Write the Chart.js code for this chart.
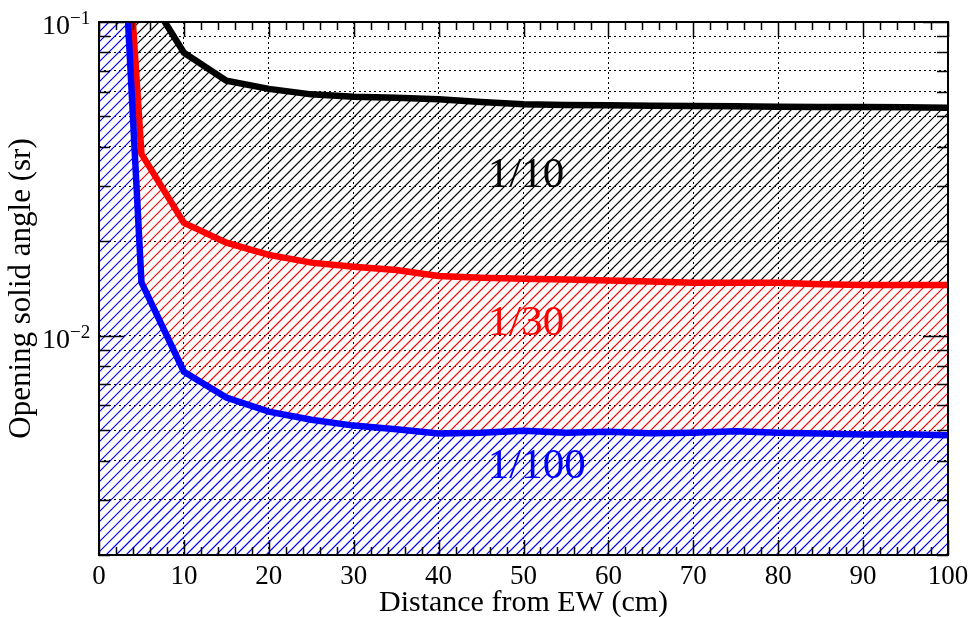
<!DOCTYPE html>
<html>
<head>
<meta charset="utf-8">
<script src="https://cdn.jsdelivr.net/npm/chart.js@4.4.1/dist/chart.umd.min.js"></script>
<style>
  html, body { margin: 0; padding: 0; background: #fff; }
  #wrap { width: 972px; height: 617px; }
</style>
</head>
<body>
<div id="wrap"><canvas id="solidAngleChart" width="972" height="617"></canvas></div>
<script>
const distances = [0, 5, 10, 15, 20, 25, 30, 35, 40, 45, 50, 55, 60, 65, 70, 75, 80, 85, 90, 95, 100];
const omega10 = [0.2, 0.132, 0.0798, 0.065, 0.0612, 0.0588, 0.0578, 0.0573, 0.0567, 0.0556, 0.0547,
  0.0544, 0.0543, 0.0541, 0.054, 0.0539, 0.0537, 0.0536, 0.0536, 0.0535, 0.0533];
const omega30 = [4.5, 0.038, 0.0229, 0.0198, 0.0181, 0.0171, 0.0166, 0.0162, 0.0155, 0.0153, 0.0152,
  0.0151, 0.015, 0.0149, 0.01475, 0.01475, 0.01475, 0.0146, 0.0145, 0.0145, 0.0145];
const omega100 = [6.3, 0.0148, 0.00768, 0.00635, 0.00573, 0.0054, 0.00517, 0.00503, 0.00488, 0.00491, 0.00498,
  0.00491, 0.00494, 0.00489, 0.00491, 0.00496, 0.00491, 0.00488, 0.00484, 0.00485, 0.00482];

const yTickValues = [0.002, 0.003, 0.004, 0.005, 0.006, 0.007, 0.008, 0.009,
  0.01, 0.02, 0.03, 0.04, 0.05, 0.06, 0.07, 0.08, 0.09, 0.1];
const yMajorTicks = [0.01, 0.1];
const yMajorLabels = ["\u22122", "\u22121"];
const xMinorStep = 2;

const regionLabels = [
  { text: "1/10", x: 45.8, y: 0.0298, color: "#000" },
  { text: "1/30", x: 45.8, y: 0.01007, color: "#ff0000" },
  { text: "1/100", x: 45.8, y: 0.00353, color: "#0000ff" },
];

const serif = "'Liberation Serif', 'Times New Roman', serif";

// hatched band under each curve, down to the previous curve (ROOT style 3004)
const hatchFill = {
  id: "hatchFill",
  beforeDatasetsDraw(chart) {
    const { ctx, chartArea: a } = chart;
    ctx.save();
    ctx.beginPath();
    ctx.rect(a.left, a.top, a.right - a.left, a.bottom - a.top);
    ctx.clip();
    chart.data.datasets.forEach((ds, i) => {
      const pts = chart.getDatasetMeta(i).data;
      ctx.save();
      ctx.beginPath();
      pts.forEach((p, k) => (k ? ctx.lineTo(p.x, p.y) : ctx.moveTo(p.x, p.y)));
      if (i === 0) {
        ctx.lineTo(pts[pts.length - 1].x, a.bottom);
        ctx.lineTo(pts[0].x, a.bottom);
      } else {
        const prev = chart.getDatasetMeta(i - 1).data;
        for (let k = prev.length - 1; k >= 0; k--) ctx.lineTo(prev[k].x, prev[k].y);
      }
      ctx.closePath();
      ctx.clip();
      ctx.strokeStyle = ds.hatchColor;
      ctx.lineWidth = 1.2;
      ctx.beginPath();
      const h = a.bottom - a.top;
      for (let s = a.left - h - 10; s < a.right + 10; s += 10) {
        ctx.moveTo(s, a.bottom);
        ctx.lineTo(s + h, a.top);
      }
      ctx.stroke();
      ctx.restore();
    });
    ctx.restore();
  },
};

const rootFrame = {
  id: "rootFrame",
  afterDraw(chart) {
    const { ctx, chartArea: a, scales } = chart;
    const x = scales.x, y = scales.y;
    ctx.save();

    // region labels
    ctx.font = "43px " + serif;
    ctx.textAlign = "left";
    ctx.textBaseline = "alphabetic";
    regionLabels.forEach((r) => {
      ctx.fillStyle = r.color;
      ctx.fillText(r.text, x.getPixelForValue(r.x), y.getPixelForValue(r.y));
    });

    // tick marks inside the frame
    ctx.strokeStyle = "#000";
    ctx.lineWidth = 1.5;
    ctx.beginPath();
    for (let v = 0; v <= 100; v += xMinorStep) {
      const px = Math.round(x.getPixelForValue(v)) + 0.5;
      const len = v % 10 === 0 ? 15 : 8;
      ctx.moveTo(px, a.bottom);
      ctx.lineTo(px, a.bottom - len);
      ctx.moveTo(px, a.top);
      ctx.lineTo(px, a.top + len);
    }
    yTickValues.forEach((v) => {
      const py = Math.round(y.getPixelForValue(v)) + 0.5;
      const len = yMajorTicks.includes(v) ? 25 : 11;
      ctx.moveTo(a.left, py);
      ctx.lineTo(a.left + len, py);
      ctx.moveTo(a.right, py);
      ctx.lineTo(a.right - len, py);
    });
    ctx.stroke();

    // frame
    ctx.lineWidth = 2;
    ctx.strokeRect(a.left, a.top, a.right - a.left, a.bottom - a.top);

    // y labels 10^n
    ctx.fillStyle = "#000";
    yMajorTicks.forEach((v, i) => {
      const py = y.getPixelForValue(v);
      ctx.textAlign = "right";
      ctx.font = "28px " + serif;
      ctx.fillText("10", 70, py + 12);
      ctx.textAlign = "left";
      ctx.font = "19px " + serif;
      ctx.fillText(yMajorLabels[i], 70, py + 2);
    });
    ctx.restore();
  },
};

const ctx = document.getElementById("solidAngleChart").getContext("2d");
const solidAngleChart = new Chart(ctx, {
  type: "line",
  data: {
    labels: distances,
    datasets: [
      { label: "1/100", data: omega100, borderColor: "#0000ff", hatchColor: "#0000ff" },
      { label: "1/30", data: omega30, borderColor: "#ff0000", hatchColor: "#ff0000" },
      { label: "1/10", data: omega10, borderColor: "#000000", hatchColor: "#000000" },
    ].map((d) => ({
      ...d,
      data: d.data.map((v, i) => ({ x: distances[i], y: v })),
      backgroundColor: "transparent",
      fill: false,
      borderWidth: 6.5,
      pointRadius: 0,
      tension: 0,
      clip: 0,
    })),
  },
  options: {
    responsive: false,
    animation: false,
    devicePixelRatio: 1,
    layout: { padding: { left: 0, right: 24, top: 22, bottom: 0 } },
    plugins: {
      legend: { display: false },
      tooltip: { enabled: false },
    },
    scales: {
      x: {
        type: "linear",
        min: 0,
        max: 100,
        ticks: {
          stepSize: 10,
          color: "#000",
          padding: 6,
          maxRotation: 0,
          font: { family: serif, size: 27 },
        },
        grid: { color: "#000", lineWidth: 1, drawTicks: false },
        border: { display: false, dash: [2, 3] },
        title: {
          display: true,
          text: "Distance from EW (cm)",
          color: "#000",
          font: { family: serif, size: 30 },
          padding: { top: 0, bottom: -4 },
        },
        afterFit(scale) {
          scale.height = 62;
          scale.paddingLeft = 0;
          scale.paddingRight = 0;
        },
      },
      y: {
        type: "logarithmic",
        min: 0.002,
        max: 0.1,
        afterBuildTicks(scale) {
          scale.ticks = yTickValues.map((v) => ({ value: v }));
        },
        ticks: { display: false },
        grid: { color: "#000", lineWidth: 1, drawTicks: false },
        border: { display: false, dash: [2, 3] },
        title: {
          display: true,
          text: "Opening solid angle (sr)",
          color: "#000",
          font: { family: serif, size: 31 },
          padding: { top: 3, bottom: 0 },
        },
        afterFit(scale) {
          scale.width = 99;
          scale.paddingTop = 0;
          scale.paddingBottom = 0;
        },
      },
    },
  },
  plugins: [hatchFill, rootFrame],
});
</script>
</body>
</html>
